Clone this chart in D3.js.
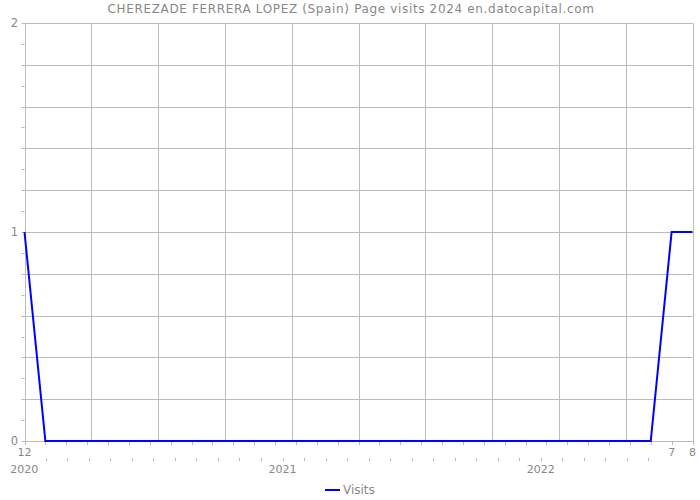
<!DOCTYPE html>
<html>
<head>
<meta charset="utf-8">
<script src="https://cdn.jsdelivr.net/npm/d3@7"></script>
<style>
  html, body { margin: 0; padding: 0; background: #fff; }
  svg { display: block; font-family: "DejaVu Sans", Verdana, sans-serif; }
</style>
</head>
<body>
<svg id="chart" width="700" height="500"></svg>
<script>
// ---- data ----
const title = "CHEREZADE FERRERA LOPEZ (Spain) Page visits 2024 en.datocapital.com";
const seriesName = "Visits";
const months = [
  "2019-12","2020-01","2020-02","2020-03","2020-04","2020-05","2020-06","2020-07","2020-08","2020-09","2020-10","2020-11","2020-12",
  "2021-01","2021-02","2021-03","2021-04","2021-05","2021-06","2021-07","2021-08","2021-09","2021-10","2021-11","2021-12",
  "2022-01","2022-02","2022-03","2022-04","2022-05","2022-06","2022-07","2022-08"
];
const visits = [
  1, 0, 0, 0, 0, 0, 0, 0, 0, 0, 0, 0, 0,
  0, 0, 0, 0, 0, 0, 0, 0, 0, 0, 0, 0,
  0, 0, 0, 0, 0, 0, 1, 1
];
const monthTickLabels = ["12", "7", "8"];
const monthLabelAt = ["2019-12", "2022-07", "2022-08"];
const yearLabels = ["2020", "2021", "2022"];
const yTickLabels = [0, 1, 2];

// ---- layout ----
const svg = d3.select("#chart");
const pLeft = 24.5, pRight = 692.5, pTop = 23, pBottom = 441;
const gridCol = "#bbbbbb", textCol = "#888888";

const x = d3.scalePoint().domain(months).range([pLeft, pRight]);
const y = d3.scaleLinear().domain([0, 2]).range([pBottom, pTop]);

// vertical gridlines: 10 equal divisions of the plot
const gx = d3.scaleLinear().domain([0, 10]).range([pLeft, pRight]);
svg.append("g").selectAll("line").data(d3.range(0, 11)).join("line")
  .attr("x1", d => Math.round(gx(d)) + 0.5).attr("x2", d => Math.round(gx(d)) + 0.5)
  .attr("y1", pTop).attr("y2", pBottom)
  .attr("stroke", gridCol).attr("stroke-width", 1);

// horizontal gridlines every 0.2
const yMajor = d3.range(0, 11).map(i => i * 0.2);
svg.append("g").selectAll("line").data(yMajor).join("line")
  .attr("x1", pLeft - 3).attr("x2", pRight)
  .attr("y1", d => Math.round(y(d)) + 0.5).attr("y2", d => Math.round(y(d)) + 0.5)
  .attr("stroke", gridCol).attr("stroke-width", 1);
// minor y ticks
const yMinor = d3.range(0, 10).map(i => i * 0.2 + 0.1);
svg.append("g").selectAll("line").data(yMinor).join("line")
  .attr("x1", pLeft - 3).attr("x2", pLeft)
  .attr("y1", d => Math.round(y(d)) + 0.5).attr("y2", d => Math.round(y(d)) + 0.5)
  .attr("stroke", gridCol).attr("stroke-width", 1);

// y labels
svg.append("g").selectAll("text").data(yTickLabels).join("text")
  .attr("x", 18).attr("y", d => y(d)).attr("dy", "0.35em")
  .attr("text-anchor", "end").attr("font-size", 11.5).attr("fill", textCol)
  .text(d => d);

// first x axis: months
svg.append("line").attr("x1", pLeft).attr("x2", pRight)
  .attr("y1", pBottom + 0.5).attr("y2", pBottom + 0.5)
  .attr("stroke", gridCol);
svg.append("g").selectAll("line").data(months).join("line")
  .attr("x1", d => Math.round(x(d)) + 0.5).attr("x2", d => Math.round(x(d)) + 0.5)
  .attr("y1", pBottom).attr("y2", pBottom + 4)
  .attr("stroke", gridCol);
svg.append("g").selectAll("text").data(monthLabelAt).join("text")
  .attr("x", d => x(d)).attr("y", 456)
  .attr("text-anchor", "middle").attr("font-size", 11).attr("fill", textCol)
  .text((d, i) => monthTickLabels[i]);

// second x axis: years with monthly minor ticks
const yx = d3.scaleLinear().domain([0, 24]).range([24.3, 540.7]);
const minorMonths = d3.range(1, 30);
svg.append("g").selectAll("line").data(minorMonths).join("line")
  .attr("x1", d => Math.round(yx(d)) + 0.5).attr("x2", d => Math.round(yx(d)) + 0.5)
  .attr("y1", 458).attr("y2", 461)
  .attr("stroke", gridCol);
svg.append("g").selectAll("text").data(yearLabels).join("text")
  .attr("x", (d, i) => yx(i * 12)).attr("y", 473.3)
  .attr("text-anchor", "middle").attr("font-size", 11).attr("fill", textCol)
  .text(d => d);

// line
const line = d3.line().x((d, i) => x(months[i])).y(d => y(d));
svg.append("path").datum(visits)
  .attr("d", line).attr("fill", "none")
  .attr("stroke", "#0000ff").attr("stroke-width", 2);

// title
svg.append("text").attr("x", 351).attr("y", 13)
  .attr("text-anchor", "middle").attr("font-size", 12).attr("fill", "#888888")
  .attr("letter-spacing", "0.65px")
  .text(title);

// legend
svg.append("line").attr("x1", 325).attr("x2", 340).attr("y1", 490).attr("y2", 490)
  .attr("stroke", "#0000ff").attr("stroke-width", 2);
svg.append("text").attr("x", 343).attr("y", 490).attr("dy", "0.35em")
  .attr("font-size", 12).attr("fill", textCol).text(seriesName);
</script>
</body>
</html>
